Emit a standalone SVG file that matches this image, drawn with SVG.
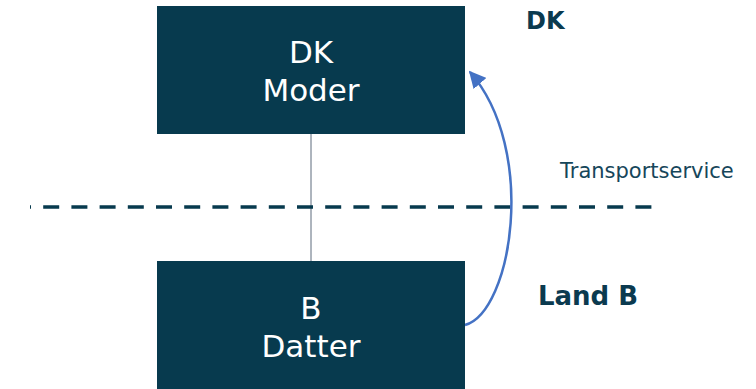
<svg xmlns="http://www.w3.org/2000/svg" width="756" height="389" viewBox="0 0 756 389">
<defs>
<style>
.box{fill:#073a4e}
.bt{fill:#ffffff;font-family:"DejaVu Sans",Verdana,sans-serif;font-size:31px;text-anchor:middle}
.lbl{fill:#0b3a4f;font-family:"DejaVu Sans",Verdana,sans-serif;font-weight:bold}
.ts{fill:#16465a;font-family:"DejaVu Sans",Verdana,sans-serif;font-size:21px}
</style>
<marker id="ah" viewBox="0 0 10 10" refX="9" refY="5" markerWidth="17" markerHeight="17" markerUnits="userSpaceOnUse" orient="auto">
<path d="M0,0 L10,5 L0,10 z" fill="#4472c4"/>
</marker>
</defs>
<rect width="756" height="389" fill="#ffffff"/>
<g id="connectors">
<line x1="311" y1="134" x2="311" y2="262" stroke="#5c6a7c" stroke-width="1"/>
<line x1="30" y1="207" x2="652" y2="207" stroke="#073a4e" stroke-width="3.5" stroke-dasharray="16 12.2" stroke-dashoffset="15"/>
<path d="M465,325 C512,312 538,150 470,72" fill="none" stroke="#4472c4" stroke-width="2.5" marker-end="url(#ah)"/>
</g>
<g id="moder">
<rect class="box" x="157" y="6" width="308" height="128"/>
<text class="bt" x="311" y="63">DK</text>
<text class="bt" x="311" y="101">Moder</text>
</g>
<g id="datter">
<rect class="box" x="157" y="261" width="308" height="128"/>
<text class="bt" x="311" y="319">B</text>
<text class="bt" x="311" y="357">Datter</text>
</g>
<g id="labels">
<text class="lbl" x="526" y="29" font-size="24">DK</text>
<text class="lbl" x="538" y="305" font-size="26">Land B</text>
<text class="ts" x="560" y="178">Transportservice</text>
</g>
</svg>
